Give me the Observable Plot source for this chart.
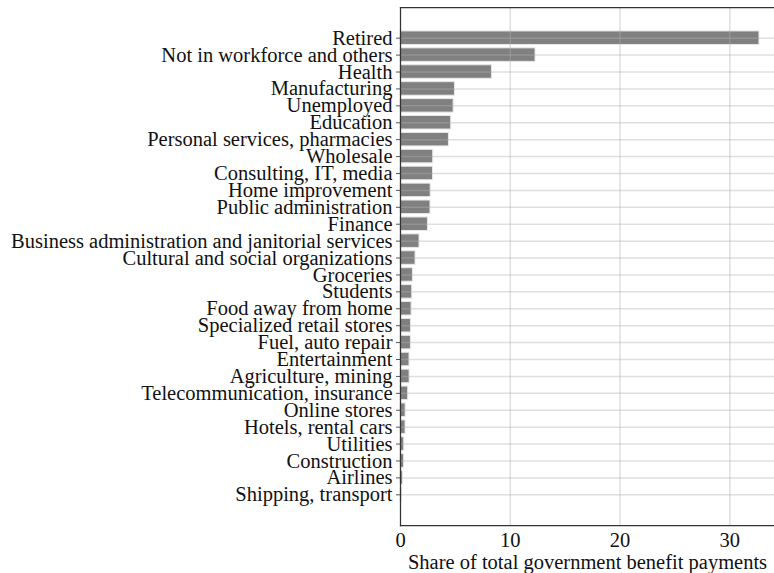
<!DOCTYPE html>
<html>
<head>
<meta charset="utf-8">
<script src="https://cdn.jsdelivr.net/npm/d3@7"></script>
<script src="https://cdn.jsdelivr.net/npm/@observablehq/plot@0.6"></script>
<style>
  html, body { margin: 0; padding: 0; background: #fff; }
  #chart svg { display: block; }
</style>
</head>
<body>
<div id="chart"></div>
<script>
const categories = [
  "Retired",
  "Not in workforce and others",
  "Health",
  "Manufacturing",
  "Unemployed",
  "Education",
  "Personal services, pharmacies",
  "Wholesale",
  "Consulting, IT, media",
  "Home improvement",
  "Public administration",
  "Finance",
  "Business administration and janitorial services",
  "Cultural and social organizations",
  "Groceries",
  "Students",
  "Food away from home",
  "Specialized retail stores",
  "Fuel, auto repair",
  "Entertainment",
  "Agriculture, mining",
  "Telecommunication, insurance",
  "Online stores",
  "Hotels, rental cars",
  "Utilities",
  "Construction",
  "Airlines",
  "Shipping, transport"
];
const shares = [
  32.7, 12.3, 8.33, 4.96, 4.84, 4.62, 4.41, 2.98, 2.96, 2.75, 2.73, 2.5,
  1.73, 1.37, 1.13, 1.07, 1.01, 0.96, 0.95, 0.82, 0.83, 0.70, 0.47, 0.46,
  0.34, 0.33, 0.22, 0.13
];
const xTicks = [0, 10, 20, 30];
const xLabel = "Share of total government benefit payments";

const data = categories.map((c, i) => ({category: c, share: shares[i]}));

const chart = Plot.plot({
  width: 774,
  height: 573,
  marginLeft: 400,
  marginRight: 0,
  marginTop: 7,
  marginBottom: 48,
  style: {fontFamily: "'Liberation Serif', serif", fontSize: "20.5px", color: "#111", background: "#fff"},
  x: {domain: [0, 34.07], ticks: xTicks},
  y: {domain: categories, paddingInner: 0.2, paddingOuter: 1.415, round: false},
  marks: [
    Plot.barX(data, {x: "share", y: "category", fill: "#808080", stroke: "#e8e8e8", strokeWidth: 1}),
    Plot.gridX(xTicks.filter(d => d > 0), {stroke: "#b0b0b0", strokeOpacity: 0.4, strokeWidth: 1.5}),
    Plot.gridY(categories, {stroke: "#b0b0b0", strokeOpacity: 0.4, strokeWidth: 1.5}),
    Plot.axisY({tickSize: 4, tickPadding: 4, label: null, stroke: "#555", fontSize: 20.5}),
    Plot.axisX(xTicks, {tickSize: 0, tickPadding: 7, label: xLabel, labelAnchor: "center", labelArrow: "none", labelOffset: 43, fontSize: 20.5}),
    Plot.frame({anchor: "top", stroke: "#333", strokeWidth: 1.25}),
    Plot.frame({anchor: "bottom", stroke: "#333", strokeWidth: 1.25}),
    Plot.frame({anchor: "left", stroke: "#333", strokeWidth: 1.25})
  ]
});
document.getElementById("chart").appendChild(chart);
</script>
</body>
</html>
